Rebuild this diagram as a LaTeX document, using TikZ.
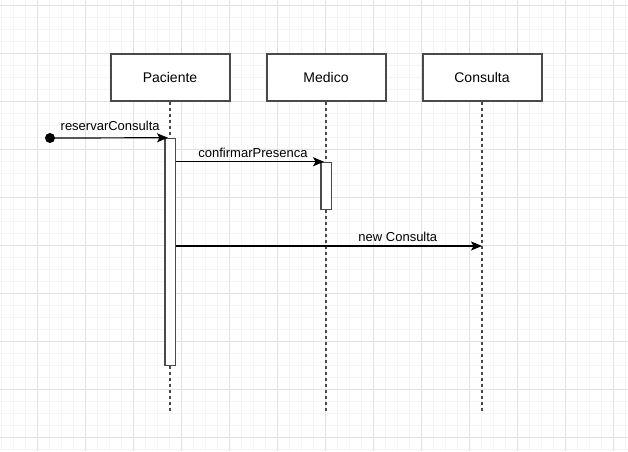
\documentclass[tikz,border=0pt]{standalone}
\usepackage{fontspec}
\setmainfont{Liberation Sans}
\usetikzlibrary{arrows.meta}
\usetikzlibrary{positioning}
\definecolor{GitterFein}{HTML}{F4F4F4}
\definecolor{GitterGrob}{HTML}{E2E2E2}
\definecolor{Rahmen}{HTML}{4A4A4A}
\tikzset{
  Objekt/.style={draw=Rahmen, line width=2pt, fill=white, inner sep=0pt,
    minimum width=119pt, minimum height=47pt,
    font=\fontsize{14pt}{16pt}\selectfont}, % Objektkasten
  Aktiv/.style={draw=Rahmen, line width=1.5pt, fill=white, inner sep=0pt,
    minimum width=10.5pt}, % Aktivierungsbalken
  Leben/.style={Rahmen, line width=1.5pt, dash pattern=on 3pt off 3pt},% Lebenslinie
  Nachricht/.style={line width=1.2pt, -{Stealth[length=11pt,width=9pt,inset=2.5pt]}},
  Text/.style={inner sep=1pt, font=\fontsize{13pt}{15pt}\selectfont} % Nachrichtentext
}

\begin{document}
\begin{tikzpicture}[x=1pt, y=-1pt]
\useasboundingbox[fill=white] (0,0) rectangle (628,451);

%Gitter
\foreach \x in {1,13,...,625}
  \draw[GitterFein] (\x,0) -- (\x,451);
\foreach \y in {5,17,...,449}
  \draw[GitterFein] (0,\y) -- (628,\y);
\foreach \x in {37,85,...,613}
  \draw[GitterGrob] (\x,0) -- (\x,451);
\foreach \y in {5,53,...,437}
  \draw[GitterGrob] (0,\y) -- (628,\y);

%Objekte
\node[Objekt] (Paciente) at (170,77.5) {Paciente};
\node[Objekt, right=35pt of Paciente] (Medico) {Medico};
\node[Objekt, right=35pt of Medico] (Consulta) {Consulta};

%Lebenslinien
\coordinate (endeP) at (170,413);
\coordinate (endeM) at (326,413);
\coordinate (endeC) at (482,413);
\draw[Leben] (Paciente.south) -- (endeP);
\draw[Leben] (Medico.south) -- (endeM);
\draw[Leben] (Consulta.south) -- (endeC);

%Aktivierungen
\node[Aktiv, minimum height=227pt] (aktP) at (170,252) {};
\node[Aktiv, minimum height=47pt] (aktM) at (326,186) {};

%Nachrichten
\node[circle, fill=black, minimum size=10pt, inner sep=0pt] (Start) at (50,138) {};
\draw[Nachricht] (Start.center) -- ([xshift=4pt]aktP.north west)
  node[pos=.51, above=6pt, Text] {reservarConsulta};
\draw[Nachricht] (aktP.east |- aktM.north) -- ([xshift=4pt]aktM.north west)
  node[pos=.52, above=3pt, Text] {confirmarPresenca};
\coordinate (neu) at (482,246);
\draw[Nachricht] (aktP.east |- neu) -- (neu)
  node[pos=.725, above=3pt, Text] {new Consulta};

\end{tikzpicture}
\end{document}
